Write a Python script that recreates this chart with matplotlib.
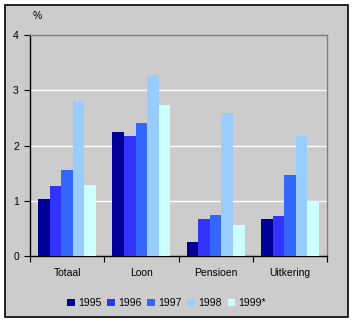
import numpy as np
import matplotlib
matplotlib.use("Agg")
import matplotlib.pyplot as plt
from matplotlib.patches import Rectangle

plt.rcParams['font.family'] = ['Liberation Sans', 'DejaVu Sans']

categories = ["Totaal", "Loon", "Pensioen", "Uitkering"]
years = ["1995", "1996", "1997", "1998", "1999*"]
v1995 = [1.03, 2.24, 0.25, 0.67]
v1996 = [1.27, 2.17, 0.67, 0.72]
v1997 = [1.56, 2.41, 0.74, 1.47]
v1998 = [2.81, 3.28, 2.59, 2.17]
v1999 = [1.29, 2.73, 0.56, 0.99]
series = [v1995, v1996, v1997, v1998, v1999]
colors = ["#000099", "#3333FF", "#3366FF", "#99CCFF", "#CCFFFF"]
bg = "#CCCCCC"

W, H = 355, 324
fig = plt.figure(figsize=(W / 100, H / 100), dpi=100, facecolor="white")

# chart area frame, kept behind the axes
fig.patches.append(Rectangle((5 / W, 1 - 317 / H), 343 / W, 312 / H,
                             transform=fig.transFigure, facecolor=bg,
                             edgecolor="black", linewidth=1.2, zorder=-5))

ax = fig.add_axes([30 / W, 1 - 256 / H, 297 / W, 221 / H])
ax.set_facecolor(bg)

x = np.arange(len(categories))
bw = 0.156
for i, (vals, c, yr) in enumerate(zip(series, colors, years)):
    ax.bar(x + (i - 2) * bw, vals, width=bw, color=c, label=yr, zorder=3)

ax.set_xlim(-0.5, 3.5)
ax.set_ylim(0, 4)
ax.set_yticks([0, 1, 2, 3, 4])
ax.tick_params(axis="y", direction="out", length=4, width=0.8, labelsize=7.5, pad=4)
for yv in [1, 2, 3]:
    ax.axhline(yv, color="white", linewidth=1, zorder=1)

ax.set_xticks(np.arange(-0.5, 4, 1))
ax.set_xticklabels([])
ax.tick_params(axis="x", which="major", direction="out", length=4, width=0.8)
ax.set_xticks(x, minor=True)
ax.set_xticklabels(categories, minor=True, fontsize=7.5)
ax.tick_params(axis="x", which="minor", length=0, pad=9)

for s in ["top", "right"]:
    ax.spines[s].set_color("#808080")
    ax.spines[s].set_linewidth(1)
for s in ["left", "bottom"]:
    ax.spines[s].set_color("black")
    ax.spines[s].set_linewidth(1)

fig.text(33 / W, 1 - 16 / H, "%", fontsize=7.5, va="center", ha="left")

fig.legend(loc="center", bbox_to_anchor=(166.5 / W, 1 - 303 / H), ncol=5,
           frameon=False, fontsize=7.5, handlelength=0.7, handleheight=0.7,
           handletextpad=0.3, columnspacing=0.6)

fig.savefig("out.png", dpi=100, facecolor="white")
